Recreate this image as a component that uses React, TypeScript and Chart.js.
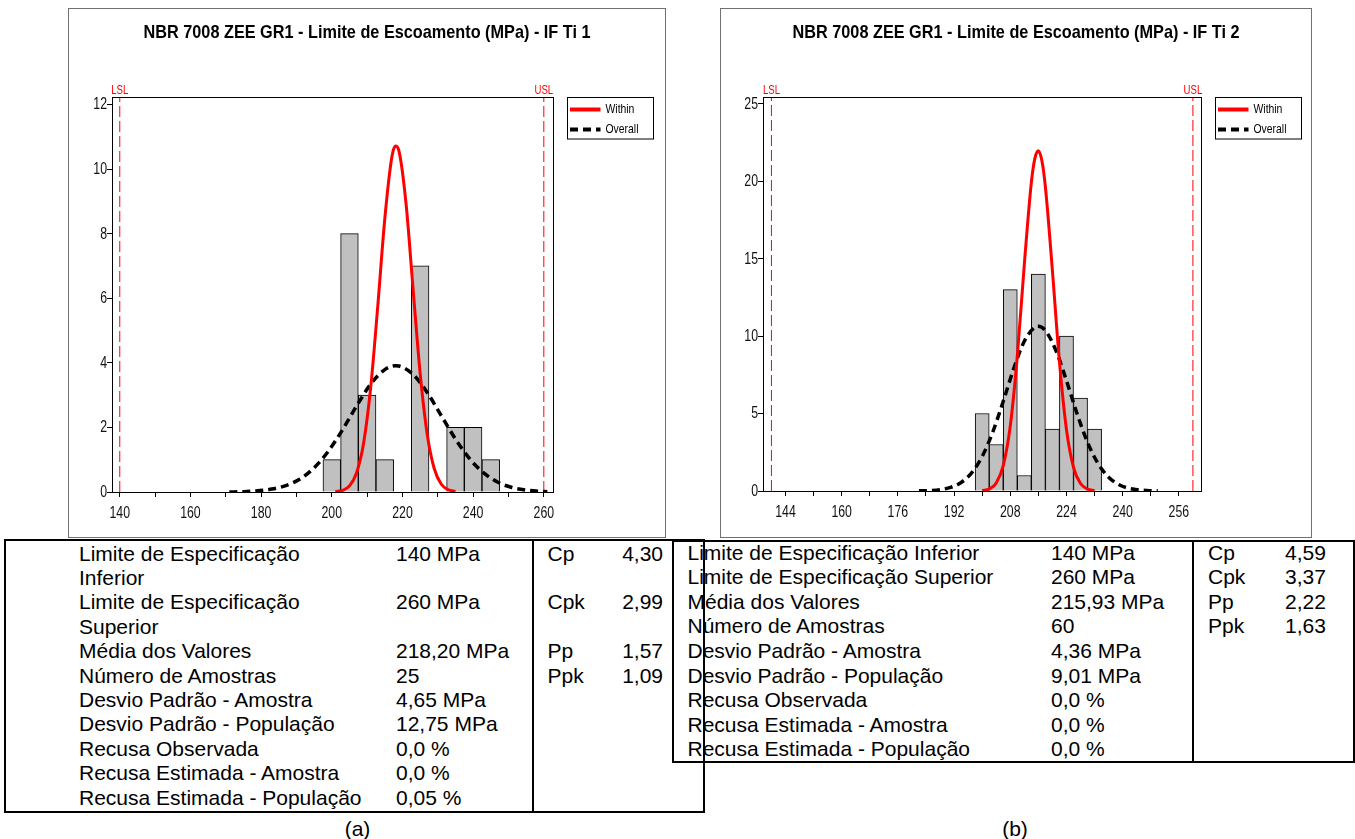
import React, { useEffect, useRef } from 'react';
import { Chart, registerables } from 'chart.js';

Chart.register(...registerables);

const SANS = "'Liberation Sans', Arial, Helvetica, sans-serif";
const NARROW_SCALE = 0.8;
const TICK_SCALE = 0.77;

// ---------------- Panel (a) data ----------------
const titleA = 'NBR 7008 ZEE GR1 - Limite de Escoamento (MPa) - IF Ti 1';
const binCentersA = [200, 205, 210, 215, 220, 225, 230, 235, 240, 245];
const countsA = [1, 8, 3, 1, 0, 7, 0, 2, 2, 1];
const withinXA = [201, 203, 205, 207, 209, 211, 213, 215, 217, 218, 219, 221, 223, 225, 227, 229, 231, 233, 235];
const withinYA = [0.01, 0.05, 0.19, 0.59, 1.51, 3.23, 5.74, 8.46, 10.37, 10.71, 10.56, 8.94, 6.29, 3.68, 1.79, 0.72, 0.24, 0.07, 0.02];
const overallXA = [171, 175, 179, 183, 187, 191, 195, 199, 203, 207, 211, 215, 218, 219, 223, 227, 231, 235, 239, 243, 247, 251, 255, 259, 261];
const overallYA = [0.0, 0.01, 0.04, 0.09, 0.2, 0.4, 0.75, 1.26, 1.92, 2.66, 3.34, 3.79, 3.91, 3.9, 3.64, 3.08, 2.36, 1.64, 1.03, 0.59, 0.3, 0.14, 0.06, 0.02, 0.01];
const lslA = 140;
const uslA = 260;
const yTicksA = [0, 2, 4, 6, 8, 10, 12];
const yMaxA = 12.23;
const xTickMarksA = [140, 150, 160, 170, 180, 190, 200, 210, 220, 230, 240, 250, 260];
const xTickLabelsA = [140, 160, 180, 200, 220, 240, 260];
const xMinA = 137.8;
const xMaxA = 262.6;

// ---------------- Panel (b) data ----------------
const titleB = 'NBR 7008 ZEE GR1 - Limite de Escoamento (MPa) - IF Ti 2';
const binCentersB = [200, 204, 208, 212, 216, 220, 224, 228, 232];
const countsB = [5, 3, 13, 1, 14, 4, 10, 6, 4];
const withinXB = [200, 202, 204, 206, 208, 210, 212, 214, 215, 216, 217, 218, 220, 222, 224, 226, 228, 230, 232];
const withinYB = [0.03, 0.13, 0.52, 1.64, 4.2, 8.71, 14.63, 19.91, 21.47, 21.96, 21.31, 19.62, 14.21, 8.33, 3.96, 1.53, 0.48, 0.12, 0.03];
const overallXB = [182, 185, 188, 191, 194, 197, 200, 203, 206, 209, 212, 215, 216, 218, 221, 224, 227, 230, 233, 236, 239, 242, 245, 248, 250];
const overallYB = [0.01, 0.03, 0.09, 0.23, 0.55, 1.17, 2.23, 3.8, 5.79, 7.91, 9.67, 10.57, 10.63, 10.35, 9.07, 7.12, 5.0, 3.14, 1.77, 0.89, 0.4, 0.16, 0.06, 0.02, 0.01];
const lslB = 140;
const uslB = 260;
const yTicksB = [0, 5, 10, 15, 20, 25];
const yMaxB = 25.43;
const xTickMarksB = [144, 152, 160, 168, 176, 184, 192, 200, 208, 216, 224, 232, 240, 248, 256];
const xTickLabelsB = [144, 160, 176, 192, 208, 224, 240, 256];
const xMinB = 137.6;
const xMaxB = 262.3;

// ---------------- Tables ----------------
const statLabelsA = [
  'Limite de Especificação', 'Inferior', 'Limite de Especificação', 'Superior',
  'Média dos Valores', 'Número de Amostras', 'Desvio Padrão - Amostra',
  'Desvio Padrão - População', 'Recusa Observada', 'Recusa Estimada - Amostra',
  'Recusa Estimada - População',
];
const statValuesA = ['140 MPa', '', '260 MPa', '', '218,20 MPa', '25', '4,65 MPa', '12,75 MPa', '0,0 %', '0,0 %', '0,05 %'];
const capLabelsA = ['Cp', '', 'Cpk', '', 'Pp', 'Ppk'];
const capValuesA = ['4,30', '', '2,99', '', '1,57', '1,09'];

const statLabelsB = [
  'Limite de Especificação Inferior', 'Limite de Especificação Superior', 'Média dos Valores',
  'Número de Amostras', 'Desvio Padrão - Amostra', 'Desvio Padrão - População',
  'Recusa Observada', 'Recusa Estimada - Amostra', 'Recusa Estimada - População',
];
const statValuesB = ['140 MPa', '260 MPa', '215,93 MPa', '60', '4,36 MPa', '9,01 MPa', '0,0 %', '0,0 %', '0,0 %'];
const capLabelsB = ['Cp', 'Cpk', 'Pp', 'Ppk'];
const capValuesB = ['4,59', '3,37', '2,22', '1,63'];

type PanelSpec = {
  title: string;
  binCenters: number[];
  counts: number[];
  withinX: number[];
  withinY: number[];
  overallX: number[];
  overallY: number[];
  lsl: number;
  usl: number;
  yTicks: number[];
  yMax: number;
  xTickMarks: number[];
  xTickLabels: number[];
  xMin: number;
  xMax: number;
  area: { left: number; right: number; top: number; bottom: number };
};

// draw horizontally condensed text (approximates a narrow typeface)
function narrowText(ctx: CanvasRenderingContext2D, text: string, x: number, y: number, align: 'left' | 'center' | 'right', sx: number) {
  ctx.save();
  ctx.translate(x, y);
  ctx.scale(sx, 1);
  ctx.textAlign = align;
  ctx.fillText(text, 0, 0);
  ctx.restore();
}

const panelPlugin = {
  id: 'panelDeco',
  beforeDraw(chart: any) {
    const ctx = chart.ctx;
    ctx.save();
    ctx.fillStyle = '#ffffff';
    ctx.fillRect(0, 0, chart.width, chart.height);
    ctx.restore();
  },
  afterDraw(chart: any, _args: any, opts: any) {
    const ctx: CanvasRenderingContext2D = chart.ctx;
    const ca = chart.chartArea;
    const xs = chart.scales.x;
    const ys = chart.scales.y;
    ctx.save();
    // outer frame
    ctx.strokeStyle = '#707070';
    ctx.lineWidth = 1;
    ctx.setLineDash([]);
    ctx.strokeRect(0.5, 0.5, chart.width - 1, chart.height - 1);
    // plot box
    ctx.strokeStyle = '#000000';
    const l = Math.round(ca.left) + 0.5;
    const t = Math.round(ca.top) + 0.5;
    const r = Math.round(ca.right) + 0.5;
    const b = Math.round(ca.bottom) + 0.5;
    ctx.strokeRect(l, t, r - l, b - t);

    // title, condensed to the reference width
    ctx.fillStyle = '#000000';
    ctx.font = `bold 19px ${SANS}`;
    ctx.textBaseline = 'middle';
    const tw = ctx.measureText(opts.title).width;
    narrowText(ctx, opts.title, chart.width / 2, 25, 'center', opts.titleWidth / tw);

    // tick labels
    ctx.fillStyle = '#111111';
    ctx.font = `16px ${SANS}`;
    ctx.textBaseline = 'alphabetic';
    opts.xLabels.forEach((v: number) => {
      narrowText(ctx, String(v), xs.getPixelForValue(v), ca.bottom + 26, 'center', TICK_SCALE);
    });
    ctx.textBaseline = 'middle';
    opts.yLabels.forEach((v: number) => {
      narrowText(ctx, String(v), ca.left - 5, ys.getPixelForValue(v) + 0.5, 'right', TICK_SCALE);
    });

    // spec labels
    ctx.fillStyle = '#ff0000';
    ctx.font = `12px ${SANS}`;
    ctx.textBaseline = 'alphabetic';
    narrowText(ctx, 'LSL', xs.getPixelForValue(opts.lsl), ca.top - 3, 'center', NARROW_SCALE);
    narrowText(ctx, 'USL', xs.getPixelForValue(opts.usl), ca.top - 3, 'center', NARROW_SCALE);

    // legend
    const lx = ca.right + 13.5;
    const ly = ca.top;
    const lw = 86;
    const lh = 41.5;
    ctx.strokeStyle = '#000000';
    ctx.lineWidth = 1;
    ctx.strokeRect(Math.round(lx) + 0.5, Math.round(ly) + 0.5, lw, lh);
    const items = chart.data.datasets.filter((d: any) => d.showInLegend);
    items.forEach((d: any, i: number) => {
      const y = ly + 12.5 + i * 20;
      ctx.beginPath();
      ctx.strokeStyle = d.borderColor;
      ctx.lineWidth = 4;
      ctx.setLineDash(d.borderDash || []);
      ctx.moveTo(lx + 3.5, y);
      ctx.lineTo(lx + 34, y);
      ctx.stroke();
      ctx.setLineDash([]);
      ctx.fillStyle = '#000000';
      ctx.font = `13px ${SANS}`;
      ctx.textBaseline = 'middle';
      narrowText(ctx, d.label, lx + 39, y, 'left', NARROW_SCALE);
    });
    ctx.restore();
  },
};

function ChartPanel({ spec, left, top, width, height }: { spec: PanelSpec; left: number; top: number; width: number; height: number }) {
  const ref = useRef<HTMLCanvasElement>(null);
  useEffect(() => {
    const canvas = ref.current;
    if (!canvas) return;
    const a = spec.area;
    const chart = new Chart(canvas, {
      type: 'bar',
      data: {
        datasets: [
          {
            type: 'line',
            label: 'Within',
            showInLegend: true,
            data: spec.withinX.map((x, i) => ({ x, y: spec.withinY[i] })),
            borderColor: '#ff0000',
            borderWidth: 3,
            pointRadius: 0,
            cubicInterpolationMode: 'monotone',
            fill: false,
            order: 0,
          } as any,
          {
            type: 'line',
            label: 'Overall',
            showInLegend: true,
            data: spec.overallX.map((x, i) => ({ x, y: spec.overallY[i] })),
            borderColor: '#000000',
            borderWidth: 3.5,
            borderDash: [8, 5],
            pointRadius: 0,
            cubicInterpolationMode: 'monotone',
            fill: false,
            order: 1,
          } as any,
          {
            type: 'line',
            label: 'LSL',
            data: [{ x: spec.lsl, y: 0 }, { x: spec.lsl, y: spec.yMax }],
            borderColor: '#ff0000',
            borderWidth: 1,
            borderDash: [11, 4],
            pointRadius: 0,
            fill: false,
            order: 2,
          } as any,
          {
            type: 'line',
            label: 'USL',
            data: [{ x: spec.usl, y: 0 }, { x: spec.usl, y: spec.yMax }],
            borderColor: '#ff0000',
            borderWidth: 1,
            borderDash: [11, 4],
            pointRadius: 0,
            fill: false,
            order: 2,
          } as any,
          {
            type: 'bar',
            label: 'Histogram',
            data: spec.binCenters.map((x, i) => ({ x, y: spec.counts[i] })),
            backgroundColor: '#c0c0c0',
            borderColor: '#000000',
            borderWidth: 1,
            barPercentage: 1,
            categoryPercentage: 1,
            order: 3,
          } as any,
        ],
      },
      options: {
        responsive: false,
        animation: false,
        devicePixelRatio: 1,
        layout: {
          padding: { left: 0, bottom: 0, top: a.top, right: width - a.right },
        },
        plugins: {
          legend: { display: false },
          title: { display: false },
          tooltip: { enabled: false },
          panelDeco: {
            title: spec.title,
            titleWidth: 447,
            lsl: spec.lsl,
            usl: spec.usl,
            xLabels: spec.xTickLabels,
            yLabels: spec.yTicks,
          },
        } as any,
        scales: {
          x: {
            type: 'linear',
            min: spec.xMin,
            max: spec.xMax,
            offset: false,
            afterBuildTicks: (s: any) => {
              s.ticks = spec.xTickMarks.map((v) => ({ value: v }));
            },
            afterFit: (s: any) => {
              s.height = height - a.bottom;
            },
            ticks: {
              autoSkip: false,
              maxRotation: 0,
              padding: 4,
              color: 'rgba(0,0,0,0)',
              font: { family: SANS, size: 12 },
              callback: () => '',
            },
            grid: { drawOnChartArea: false, drawTicks: true, tickLength: 5, color: '#000000', offset: false },
            border: { display: true, color: '#000000', width: 1 },
          },
          y: {
            type: 'linear',
            min: 0,
            max: spec.yMax,
            afterBuildTicks: (s: any) => {
              s.ticks = spec.yTicks.map((v) => ({ value: v }));
            },
            afterFit: (s: any) => {
              s.width = a.left;
            },
            ticks: {
              padding: 1,
              color: 'rgba(0,0,0,0)',
              font: { family: SANS, size: 12 },
            },
            grid: { drawOnChartArea: false, drawTicks: true, tickLength: 5, color: '#000000' },
            border: { display: true, color: '#000000', width: 1 },
          },
        },
      } as any,
      plugins: [panelPlugin],
    });
    return () => chart.destroy();
  }, [spec, width, height]);
  return (
    <canvas
      ref={ref}
      width={width}
      height={height}
      style={{ position: 'absolute', left, top, width, height }}
    />
  );
}

const specA: PanelSpec = {
  title: titleA,
  binCenters: binCentersA,
  counts: countsA,
  withinX: withinXA,
  withinY: withinYA,
  overallX: overallXA,
  overallY: overallYA,
  lsl: lslA,
  usl: uslA,
  yTicks: yTicksA,
  yMax: yMaxA,
  xTickMarks: xTickMarksA,
  xTickLabels: xTickLabelsA,
  xMin: xMinA,
  xMax: xMaxA,
  area: { left: 44, right: 485, top: 89, bottom: 484 },
};

const specB: PanelSpec = {
  title: titleB,
  binCenters: binCentersB,
  counts: countsB,
  withinX: withinXB,
  withinY: withinYB,
  overallX: overallXB,
  overallY: overallYB,
  lsl: lslB,
  usl: uslB,
  yTicks: yTicksB,
  yMax: yMaxB,
  xTickMarks: xTickMarksB,
  xTickLabels: xTickLabelsB,
  xMin: xMinB,
  xMax: xMaxB,
  area: { left: 43, right: 481, top: 89, bottom: 483 },
};

function Lines({ items, left, top, lineH, width, align }: { items: string[]; left: number; top: number; lineH: number; width?: number; align?: 'left' | 'right' }) {
  return (
    <>
      {items.map((t, i) =>
        t ? (
          <div
            key={i}
            style={{
              position: 'absolute',
              left,
              top: top + i * lineH,
              width: width ?? 'auto',
              height: lineH,
              lineHeight: `${lineH}px`,
              whiteSpace: 'nowrap',
              textAlign: align ?? 'left',
            }}
          >
            {t}
          </div>
        ) : null
      )}
    </>
  );
}

export default function App() {
  return (
    <div
      style={{
        position: 'absolute',
        left: 0,
        top: 0,
        width: 1355,
        height: 839,
        background: '#ffffff',
        overflow: 'hidden',
        fontFamily: SANS,
        fontSize: 21,
        color: '#000000',
      }}
    >
      <ChartPanel spec={specA} left={68} top={8} width={598} height={530} />
      <ChartPanel spec={specB} left={720} top={8} width={592} height={530} />

      {/* Table (a) */}
      <div style={{ position: 'absolute', left: 4, top: 539, width: 701, height: 274, border: '2px solid #000', boxSizing: 'border-box' }} />
      <div style={{ position: 'absolute', left: 532, top: 539, width: 2, height: 274, background: '#000' }} />
      <Lines items={statLabelsA} left={79} top={541.5} lineH={24.4} />
      <Lines items={statValuesA} left={396} top={541.5} lineH={24.4} />
      <Lines items={capLabelsA} left={547.5} top={541.5} lineH={24.4} />
      <Lines items={capValuesA} left={600} width={63} align="right" top={541.5} lineH={24.4} />

      {/* Table (b) */}
      <div style={{ position: 'absolute', left: 672, top: 540, width: 683, height: 223, border: '2px solid #000', boxSizing: 'border-box' }} />
      <div style={{ position: 'absolute', left: 1192, top: 540, width: 2, height: 223, background: '#000' }} />
      <Lines items={statLabelsB} left={687.5} top={540.5} lineH={24.6} />
      <Lines items={statValuesB} left={1051} top={540.5} lineH={24.6} />
      <Lines items={capLabelsB} left={1208} top={540.5} lineH={24.6} />
      <Lines items={capValuesB} left={1285} top={540.5} lineH={24.6} />

      <div style={{ position: 'absolute', left: 307.5, top: 816, width: 100, textAlign: 'center', lineHeight: '26px' }}>(a)</div>
      <div style={{ position: 'absolute', left: 965, top: 816, width: 100, textAlign: 'center', lineHeight: '26px' }}>(b)</div>
    </div>
  );
}
